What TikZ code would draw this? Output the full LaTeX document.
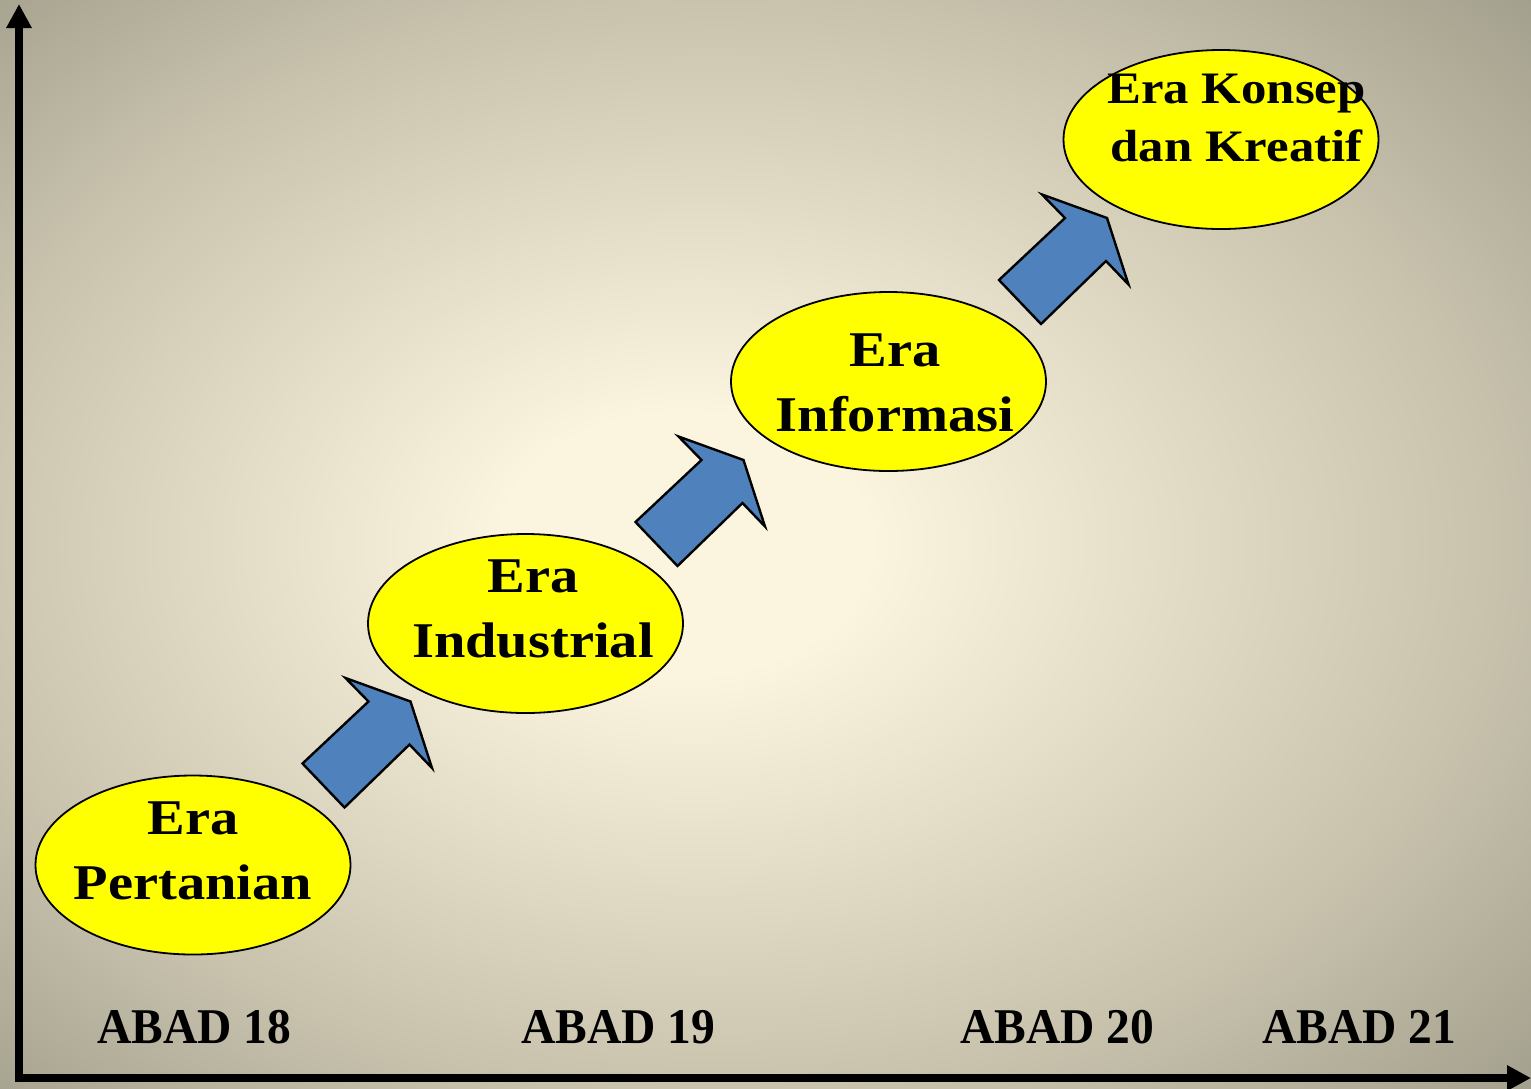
\documentclass[tikz,border=0pt]{standalone}
\usepackage{fontspec}
\setmainfont{Liberation Serif}
\newfontfamily\erafont{Liberation Serif}[FakeStretch=1.13]
\newfontfamily\abadfont{Liberation Serif}[FakeStretch=0.95]
\usetikzlibrary{shapes.geometric,arrows.meta,calc}
\definecolor{bgin}{HTML}{FBF4DF}
\definecolor{bgedge}{HTML}{C9C3AE}
\definecolor{bgcorner}{HTML}{A3A08D}
\definecolor{arrowblue}{HTML}{4F81BD}
\definecolor{erayellow}{RGB}{255,255,0}
\pgfdeclareradialshading{bgshade}{\pgfpoint{-3bp}{0bp}}{color(0bp)=(bgin); color(6bp)=(bgin); color(25bp)=(bgedge); color(36bp)=(bgcorner); color(50bp)=(bgcorner)}
\tikzset{
  eraellipse/.style={ellipse, draw=black, line width=1.8pt, fill=erayellow, inner sep=0pt,
    minimum width=315pt, minimum height=179pt},
  eratext/.style={align=center, inner sep=0pt, font=\erafont\bfseries\fontsize{50}{65}\selectfont},
  konseptext/.style={align=center, inner sep=0pt, font=\erafont\bfseries\fontsize{45}{58}\selectfont},
  abadlabel/.style={anchor=base, inner sep=0pt, font=\abadfont\bfseries\fontsize{50}{60}\selectfont},
  axisline/.style={line width=8pt, draw=black, -{Triangle[length=24pt,width=24pt]}},
  arrowshape/.style={draw=black, line width=2.4pt, fill=arrowblue, line join=miter},
  blockarrow/.pic={\path[arrowshape] (-108,62) -- (-42,0) -- (-65,-23.5) -- (0,0) -- (21.5,66.5) -- (-1,43) -- (-66,106) -- cycle;}
}
\begin{document}
\begin{tikzpicture}[x=1pt,y=-1pt]
\useasboundingbox (0,0) rectangle (1531,1088);
\shade[shading=bgshade] (0,0) rectangle (1531,1088);
% axes
\coordinate (origin) at (19,1082);
\coordinate (ytop) at (19,4);
\coordinate (xstart) at (15,1078);
\coordinate (xend) at (1531,1078);
\draw[axisline] (origin) -- (ytop);
\draw[axisline] (xstart) -- (xend);
% ellipses
\node[eraellipse] (e1) at (193,865) {};
\node[eraellipse] (e2) at (525.5,623.5) {};
\node[eraellipse] (e3) at (888.5,381.5) {};
\node[eraellipse] (e4) at (1221,139.5) {};
% texts
\node[eratext] (t1) at ($(e1)+(0,-14)$) {Era\\Pertanian};
\node[eratext] (t2) at ($(e2)+(7.5,-14.5)$) {Era\\Industrial};
\node[eratext] (t3) at ($(e3)+(6.5,1)$) {Era\\Informasi};
\node[konseptext] (t4) at ($(e4)+(15.5,-22)$) {Era Konsep\\dan Kreatif};
% block arrows
\pic at ($(e1)+(217.5,-163.5)$) {blockarrow};
\pic at ($(e2)+(218,-163.5)$) {blockarrow};
\pic at ($(e3)+(218.5,-163.5)$) {blockarrow};
% century labels
\node[abadlabel] (a18) at (194.5,1043) {ABAD 18};
\node[abadlabel] (a19) at (618.5,1043) {ABAD 19};
\node[abadlabel] (a20) at (1057.5,1043) {ABAD 20};
\node[abadlabel] (a21) at (1359.5,1043) {ABAD 21};
\end{tikzpicture}
\end{document}
